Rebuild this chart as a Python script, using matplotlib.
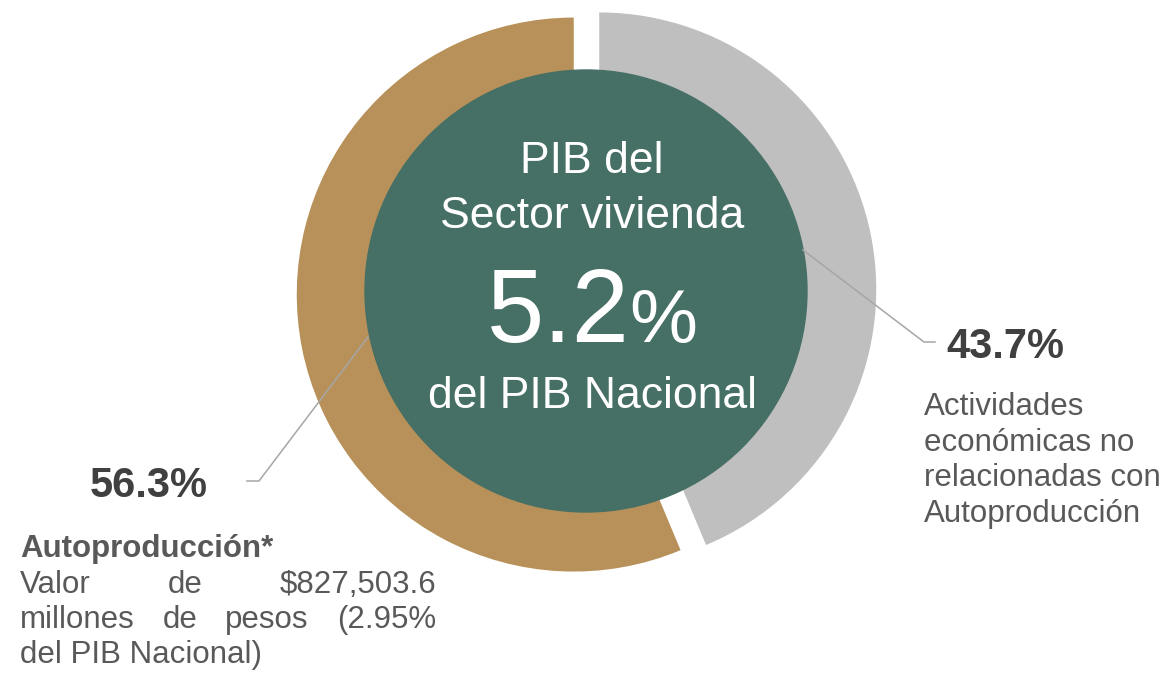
import matplotlib
matplotlib.use("Agg")
import matplotlib.pyplot as plt

# data
shares = [43.7, 56.3]
share_names = ["Actividades\neconómicas no\nrelacionadas con\nAutoproducción",
               "Autoproducción*"]
colors = ["#BFBFBF", "#B8915A"]
pib_share = 5.2
auto_note = ["Valor de $827,503.6", "millones de pesos (2.95%", "del PIB Nacional)"]
center_lines = ["PIB del", "Sector vivienda", "del PIB Nacional"]

W, H = 1173, 674
plt.rcParams['font.family'] = ['Liberation Sans', 'DejaVu Sans']

fig = plt.figure(figsize=(W / 100, H / 100), dpi=100)
ax = fig.add_axes([0, 0, 1, 1])

def Y(y):
    # image pixel row -> data y
    return H - y

cx, cy, R = 586.5, Y(292), 277
# explode is in data units here (pixels)
ax.pie(shares, colors=colors, startangle=90, counterclock=False,
       radius=R, center=(cx, cy), explode=[13, 13],
       wedgeprops=dict(width=110, linewidth=0))
ax.add_patch(plt.Circle((586, Y(291)), 221, color="#466F65", zorder=3))
ax.set_xlim(0, W)
ax.set_ylim(0, H)
ax.set_aspect('equal')
ax.axis('off')

white = "white"
ax.text(592, Y(173), center_lines[0], color=white, fontsize=32, ha='center', va='baseline', zorder=5)
ax.text(592, Y(228), center_lines[1], color=white, fontsize=32, ha='center', va='baseline', zorder=5)
ax.text(592, Y(408), center_lines[2], color=white, fontsize=32, ha='center', va='baseline', zorder=5)

# big number with a smaller % sign
r = fig.canvas.get_renderer()
t_num = ax.text(0, Y(342), f"{pib_share}", color=white, fontsize=74, ha='left', va='baseline', zorder=5)
t_pct = ax.text(0, Y(342), "%", color=white, fontsize=55, ha='left', va='baseline', zorder=5)
w_num = t_num.get_window_extent(r).width
w_pct = t_pct.get_window_extent(r).width
x0 = 592 - (w_num + w_pct) / 2
t_num.set_x(x0)
t_pct.set_x(x0 + w_num)

# leader lines
line_kw = dict(color="#A6A6A6", lw=1.1, zorder=6)
ax.plot([803, 924, 935], [Y(250), Y(342), Y(342)], **line_kw)
ax.plot([368, 259, 247], [Y(337), Y(481), Y(481)], **line_kw)

dark = "#404040"
mid = "#595959"
fs = 22.5
ax.text(946, Y(358), f"{shares[0]}%", color=dark, fontsize=30, fontweight='bold', va='baseline')
ax.text(208, Y(497), f"{shares[1]}%", color=dark, fontsize=30, fontweight='bold', ha='right', va='baseline')

for i, line in enumerate(share_names[0].split("\n")):
    ax.text(924, Y(415 + 35.7 * i), line, color=mid, fontsize=fs, va='baseline')

ax.text(20, Y(557), share_names[1], color=mid, fontsize=fs, fontweight='bold', va='baseline')

# justified note text
left, right = 20, 436
for i, line in enumerate(auto_note):
    yb = Y(593 + 35 * i)
    words = line.split()
    if i == len(auto_note) - 1:
        ax.text(left, yb, line, color=mid, fontsize=fs, va='baseline')
        continue
    texts = [ax.text(0, yb, w, color=mid, fontsize=fs, va='baseline') for w in words]
    widths = [t.get_window_extent(r).width for t in texts]
    gap = (right - left - sum(widths)) / (len(words) - 1)
    x = left
    for t, w in zip(texts, widths):
        t.set_x(x)
        x += w + gap

fig.savefig("out.png", dpi=100)
